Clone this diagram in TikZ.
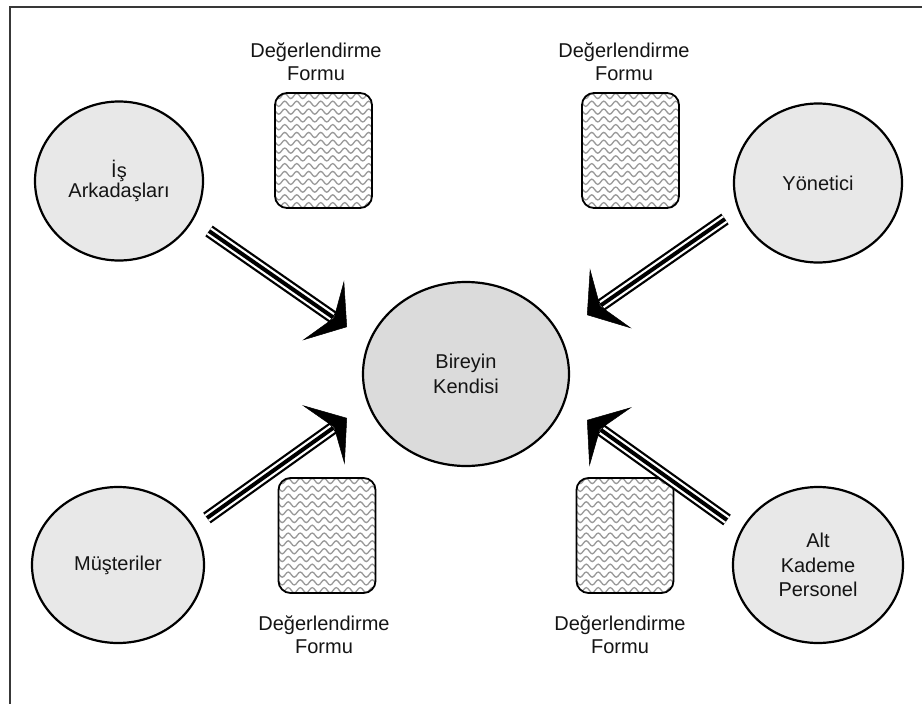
\documentclass[tikz,border=0pt]{standalone}
\usepackage{fontspec}
\setmainfont{Liberation Sans}
\usetikzlibrary{arrows.meta,shapes.geometric,decorations.pathmorphing}

\tikzset{
  txt/.style={font=\fontsize{20}{23}\selectfont, text=black!92, align=center, inner sep=0pt},
  person/.style={ellipse, draw=black, line width=2.2pt, fill=black!9, txt},
  self/.style={person, fill=black!14},
  wave/.style={draw=black!40, line width=1.3pt, sharp corners, decorate,
    decoration={snake, amplitude=2.6pt, segment length=12pt}},
  formbox/.style={draw=black, line width=1.8pt, rounded corners=12pt, fill=white,
    minimum width=97pt, minimum height=115pt, inner sep=0pt,
    path picture={
      \foreach \k in {0,...,15}{
        \draw[wave] ([xshift=-6pt,yshift=-\k*7.8pt-3pt]path picture bounding box.north west) -- ++(125,0);
      }
    }},
  frameline/.style={draw=black!78, line width=2pt},
  headtip/.style={-{Stealth[length=29pt,width=73pt,inset=13pt]}, line width=0.5pt, shorten <=60pt}
}

\begin{document}
\begin{tikzpicture}[x=1pt,y=-1pt]
  \useasboundingbox (0,0) rectangle (922,704);

  % outer frame (top and left edges)
  \draw[frameline] (10,704) -- (10,7) -- (922,7);

  % people
  \node[person, minimum width=168pt, minimum height=159pt] (is) at (119,181) {İş\\[-3pt]Arkadaşları};
  \node[person, minimum width=168pt, minimum height=159pt] (yon) at (818,183) {Yönetici};
  \node[person, minimum width=172pt, minimum height=156pt] (mus) at (118,565) {Müşteriler};
  \node[person, minimum width=170pt, minimum height=156pt, font=\fontsize{20}{24.5}\selectfont] (alt) at (818,565) {Alt\\Kademe\\Personel};
  \node[self, minimum width=206pt, minimum height=184pt, font=\fontsize{20}{25}\selectfont] (bir) at (466,374) {Bireyin\\Kendisi};

  % evaluation forms
  \node[formbox] (f1) at (323.5,150.5) {};
  \node[formbox] (f2) at (630.5,150.5) {};
  \node[formbox] (f3) at (327,535.5) {};
  \node[formbox] (f4) at (625,535.5) {};

  \node[txt] (l1) at (316,62) {Değerlendirme\\Formu};
  \node[txt] (l2) at (624,62) {Değerlendirme\\Formu};
  \node[txt] (l3) at (324,635) {Değerlendirme\\Formu};
  \node[txt] (l4) at (620,635) {Değerlendirme\\Formu};

  % arrow end points
  \coordinate (a1s) at (209,231);
  \coordinate (a1t) at (347,327);
  \coordinate (a2s) at (725,219);
  \coordinate (a2t) at (587,315);
  \coordinate (a3s) at (207,518);
  \coordinate (a3t) at (347,418);
  \coordinate (a4s) at (727,520);
  \coordinate (a4t) at (587,420);

  % triple-line arrows with barbed heads
  \foreach \s/\t in {a1s/a1t,a2s/a2t,a3s/a3t,a4s/a4t}{
    \draw[line width=13pt, shorten >=17pt] (\s) -- (\t);
    \draw[white, line width=8.5pt, shorten >=18pt] (\s) -- (\t);
    \draw[line width=4pt, shorten >=17pt] (\s) -- (\t);
    \draw[headtip] (\s) -- (\t);
  }
\end{tikzpicture}
\end{document}
